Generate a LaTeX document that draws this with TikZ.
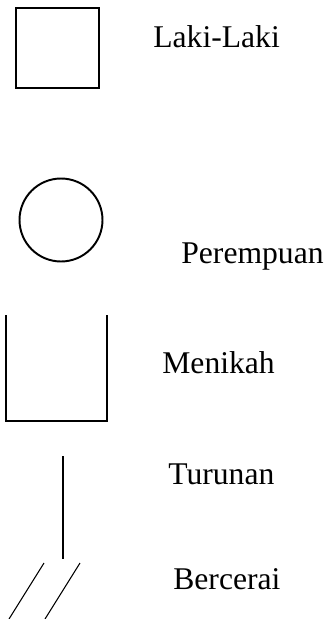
\documentclass[tikz,border=0pt]{standalone}
\usepackage{fontspec}
\setmainfont{Liberation Serif}
\usetikzlibrary{positioning}

\begin{document}
\begin{tikzpicture}[
  x=0.02cm,
  y=-0.02cm,
  symbol/.style={
    draw,
    line width=1.4pt,
    inner sep=0pt
  },
  legend/.style={
    anchor=base west,
    inner sep=0pt,
    font=\fontsize{18}{22}\selectfont
  },
  edge/.style={
    line width=0.6pt
  }
]

\useasboundingbox (0,0) rectangle (331,619);

% laki-laki
\node[symbol,rectangle,minimum width=1.66cm,minimum height=1.6cm]
  (male) at (57.5,48) {};
\node[legend] (malelbl) at (153,47) {Laki-Laki};

% perempuan
\node[symbol,circle,line width=1.1pt,minimum size=1.66cm]
  (female) at (61,220) {};
\node[legend] (femalelbl) at (181,263) {Perempuan};

% menikah
\coordinate (mtl) at (6,315);
\coordinate (mtr) at (107,315);
\draw[edge,line width=0.7pt] (mtl) |- (mtr |- 0,421) -- (mtr);
\node[legend] (marriedlbl) at (162,373) {Menikah};

% turunan
\coordinate (ctop) at (63,456);
\coordinate (cbot) at (63,559);
\draw[edge] (ctop) -- (cbot);
\node[legend] (childlbl) at (168,484) {Turunan};

% bercerai
\coordinate (d1a) at (44,563);
\coordinate (d1b) at (9,619);
\coordinate (d2a) at (80,563);
\coordinate (d2b) at (45,619);
\draw[edge] (d1a) -- (d1b);
\draw[edge] (d2a) -- (d2b);
\node[legend] (divorcelbl) at (173,589) {Bercerai};

\end{tikzpicture}
\end{document}
